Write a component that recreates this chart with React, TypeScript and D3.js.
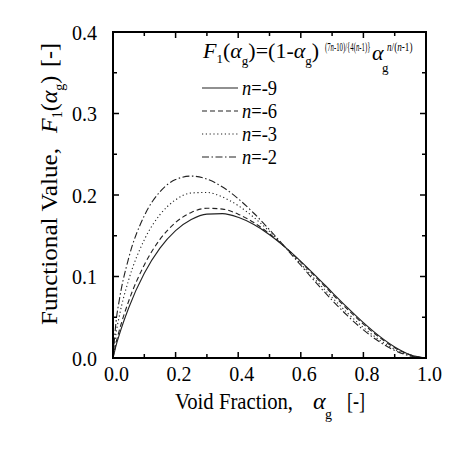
import React from 'react';
import * as d3 from 'd3';

// Void fraction sample points
const alpha = [0, 0.01, 0.02, 0.05, 0.1, 0.15, 0.2, 0.25, 0.3, 0.35, 0.4, 0.45, 0.5, 0.55, 0.6, 0.65, 0.7, 0.75, 0.8, 0.85, 0.9, 0.95, 1.0];
// Functional values
const fN9 = [0, 0.0156, 0.0285, 0.0614, 0.1039, 0.1348, 0.1563, 0.1699, 0.1765, 0.1771, 0.1726, 0.1637, 0.1513, 0.136, 0.1186, 0.0999, 0.0806, 0.0615, 0.0434, 0.0271, 0.0136, 0.004, 0];
const fN6 = [0, 0.019, 0.0337, 0.0697, 0.1142, 0.1455, 0.1663, 0.1786, 0.1837, 0.1827, 0.1765, 0.1662, 0.1524, 0.136, 0.1177, 0.0984, 0.0787, 0.0595, 0.0416, 0.0257, 0.0127, 0.0037, 0];
const fN3 = [0, 0.031, 0.0512, 0.0957, 0.145, 0.1759, 0.1941, 0.2025, 0.2031, 0.1975, 0.187, 0.1725, 0.1553, 0.1359, 0.1155, 0.0947, 0.0743, 0.0549, 0.0374, 0.0224, 0.0107, 0.0029, 0];
const fN2 = [0, 0.0455, 0.0708, 0.1225, 0.1745, 0.204, 0.2189, 0.2232, 0.2196, 0.2098, 0.1954, 0.1776, 0.1575, 0.1359, 0.1138, 0.0919, 0.0709, 0.0516, 0.0345, 0.0202, 0.0093, 0.0024, 0];

const seriesLabels = ['-9', '-6', '-3', '-2'];
const seriesValues = [fN9, fN6, fN3, fN2];
const seriesDash = ['none', '5,3', '1.2,2.6', '7,2.5,1.5,2.5'];

const xMajor = [0, 0.2, 0.4, 0.6, 0.8, 1.0];
const xMinor = [0.1, 0.3, 0.5, 0.7, 0.9];
const yMajor = [0, 0.1, 0.2, 0.3, 0.4];
const yMinor = [0.05, 0.15, 0.25, 0.35];

const FONT = 'Liberation Serif, Times New Roman, Tinos, DejaVu Serif, serif';

export default function App() {
  const left = 113, right = 426, top = 32, bottom = 358;
  const x = d3.scaleLinear().domain([0, 1]).range([left, right]);
  const y = d3.scaleLinear().domain([0, 0.4]).range([bottom, top]);
  const line = d3
    .line<number>()
    .x((_, i) => x(alpha[i]))
    .y((d) => y(d))
    .curve(d3.curveMonotoneX);

  const tickFs = 21;
  const titleFs = 24;
  const subFs = 14;

  return (
    <svg
      width={473}
      height={451}
      style={{ position: 'absolute', left: 0, top: 0, background: '#fff', fontFamily: FONT }}
    >
      <rect x={0} y={0} width={473} height={451} fill="#fff" />
      <defs>
        <clipPath id="plot">
          <rect x={left} y={top} width={right - left} height={bottom - top} />
        </clipPath>
      </defs>

      {/* curves */}
      <g clipPath="url(#plot)">
        {seriesValues.map((vals, k) => (
          <path
            key={k}
            d={line(vals) || ''}
            fill="none"
            stroke="#222"
            strokeWidth={1.1}
            strokeDasharray={seriesDash[k]}
          />
        ))}
      </g>

      {/* ticks */}
      <g stroke="#000" strokeWidth={1.5}>
        {xMajor.map((t) => (
          <g key={'xM' + t}>
            <line x1={x(t)} x2={x(t)} y1={bottom} y2={bottom - 6} />
            <line x1={x(t)} x2={x(t)} y1={top} y2={top + 6} />
          </g>
        ))}
        {xMinor.map((t) => (
          <g key={'xm' + t}>
            <line x1={x(t)} x2={x(t)} y1={bottom} y2={bottom - 4} />
            <line x1={x(t)} x2={x(t)} y1={top} y2={top + 4} />
          </g>
        ))}
        {yMajor.map((t) => (
          <g key={'yM' + t}>
            <line x1={left} x2={left + 6} y1={y(t)} y2={y(t)} />
            <line x1={right} x2={right - 6} y1={y(t)} y2={y(t)} />
          </g>
        ))}
        {yMinor.map((t) => (
          <g key={'ym' + t}>
            <line x1={left} x2={left + 4} y1={y(t)} y2={y(t)} />
            <line x1={right} x2={right - 4} y1={y(t)} y2={y(t)} />
          </g>
        ))}
      </g>

      {/* frame */}
      <rect x={left} y={top} width={right - left} height={bottom - top} fill="none" stroke="#000" strokeWidth={2} />

      {/* tick labels */}
      <g fontSize={tickFs} fill="#000" fontFamily={FONT}>
        {xMajor.map((t) => (
          <text
            key={'xl' + t}
            x={x(t) + 3.5 - 12.5}
            y={381}
            textLength={25}
            lengthAdjust="spacingAndGlyphs"
          >
            {t.toFixed(1)}
          </text>
        ))}
        {yMajor.map((t) => (
          <text
            key={'yl' + t}
            x={72}
            y={y(t) + 7.5}
            textLength={25}
            lengthAdjust="spacingAndGlyphs"
          >
            {t.toFixed(1)}
          </text>
        ))}
      </g>

      {/* x title */}
      <g fontSize={titleFs} fill="#000" fontFamily={FONT}>
        <text x={175} y={409} textLength={118} lengthAdjust="spacingAndGlyphs">Void Fraction,</text>
        <text x={313} y={409} fontStyle="italic">α</text>
        <text x={325} y={419} fontSize={subFs}>g</text>
        <text x={347} y={409} textLength={18} lengthAdjust="spacingAndGlyphs">[-]</text>
      </g>

      {/* y title */}
      <g transform="translate(57,325) rotate(-90)" fontSize={titleFs} fill="#000" fontFamily={FONT}>
        <text x={0} y={0} textLength={177} lengthAdjust="spacingAndGlyphs">Functional Value,</text>
        <text x={192} y={0}>
          <tspan fontStyle="italic">F</tspan>
          <tspan fontSize={subFs} dy={5}>1</tspan>
          <tspan dy={-5}>(</tspan>
          <tspan fontStyle="italic">α</tspan>
          <tspan fontSize={subFs} dy={7}>g</tspan>
          <tspan dy={-7}>)</tspan>
        </text>
        <text x={258} y={0}>[-]</text>
      </g>

      {/* formula */}
      <g fill="#000" fontFamily={FONT}>
        <text x={203} y={58} fontSize={22}>
          <tspan fontStyle="italic">F</tspan>
          <tspan fontSize={13} dy={5}>1</tspan>
          <tspan dy={-5}>(</tspan>
          <tspan fontStyle="italic">α</tspan>
          <tspan fontSize={13} dy={7}>g</tspan>
          <tspan dy={-7}>)=(1-</tspan>
          <tspan fontStyle="italic">α</tspan>
          <tspan fontSize={13} dy={7}>g</tspan>
          <tspan dy={-7}>)</tspan>
        </text>
        <g transform="translate(325,51) scale(0.5,1)">
          <text x={0} y={0} fontSize={13.5}>
            <tspan>(7</tspan>
            <tspan fontStyle="italic">n</tspan>
            <tspan>{'-10)/{4('}</tspan>
            <tspan fontStyle="italic">n</tspan>
            <tspan>{'-1)}'}</tspan>
          </text>
        </g>
        <text x={372} y={60} fontSize={22} fontStyle="italic">α</text>
        <text x={382} y={72} fontSize={13}>g</text>
        <g transform="translate(387,51) scale(0.68,1)">
          <text x={0} y={0} fontSize={13.5}>
            <tspan fontStyle="italic">n</tspan>
            <tspan>/(</tspan>
            <tspan fontStyle="italic">n</tspan>
            <tspan>-1)</tspan>
          </text>
        </g>
      </g>

      {/* legend */}
      {seriesLabels.map((lab, k) => {
        const ly = 88 + k * 23;
        return (
          <g key={'lg' + k}>
            <line x1={202} x2={238} y1={ly} y2={ly} stroke="#222" strokeWidth={1.1} strokeDasharray={seriesDash[k]} />
            <g transform={`translate(242,${ly + 7}) scale(0.84,1)`}>
              <text x={0} y={0} fontSize={22} fill="#000" fontFamily={FONT}>
                <tspan fontStyle="italic">n</tspan>
                <tspan>={lab}</tspan>
              </text>
            </g>
          </g>
        );
      })}
    </svg>
  );
}
